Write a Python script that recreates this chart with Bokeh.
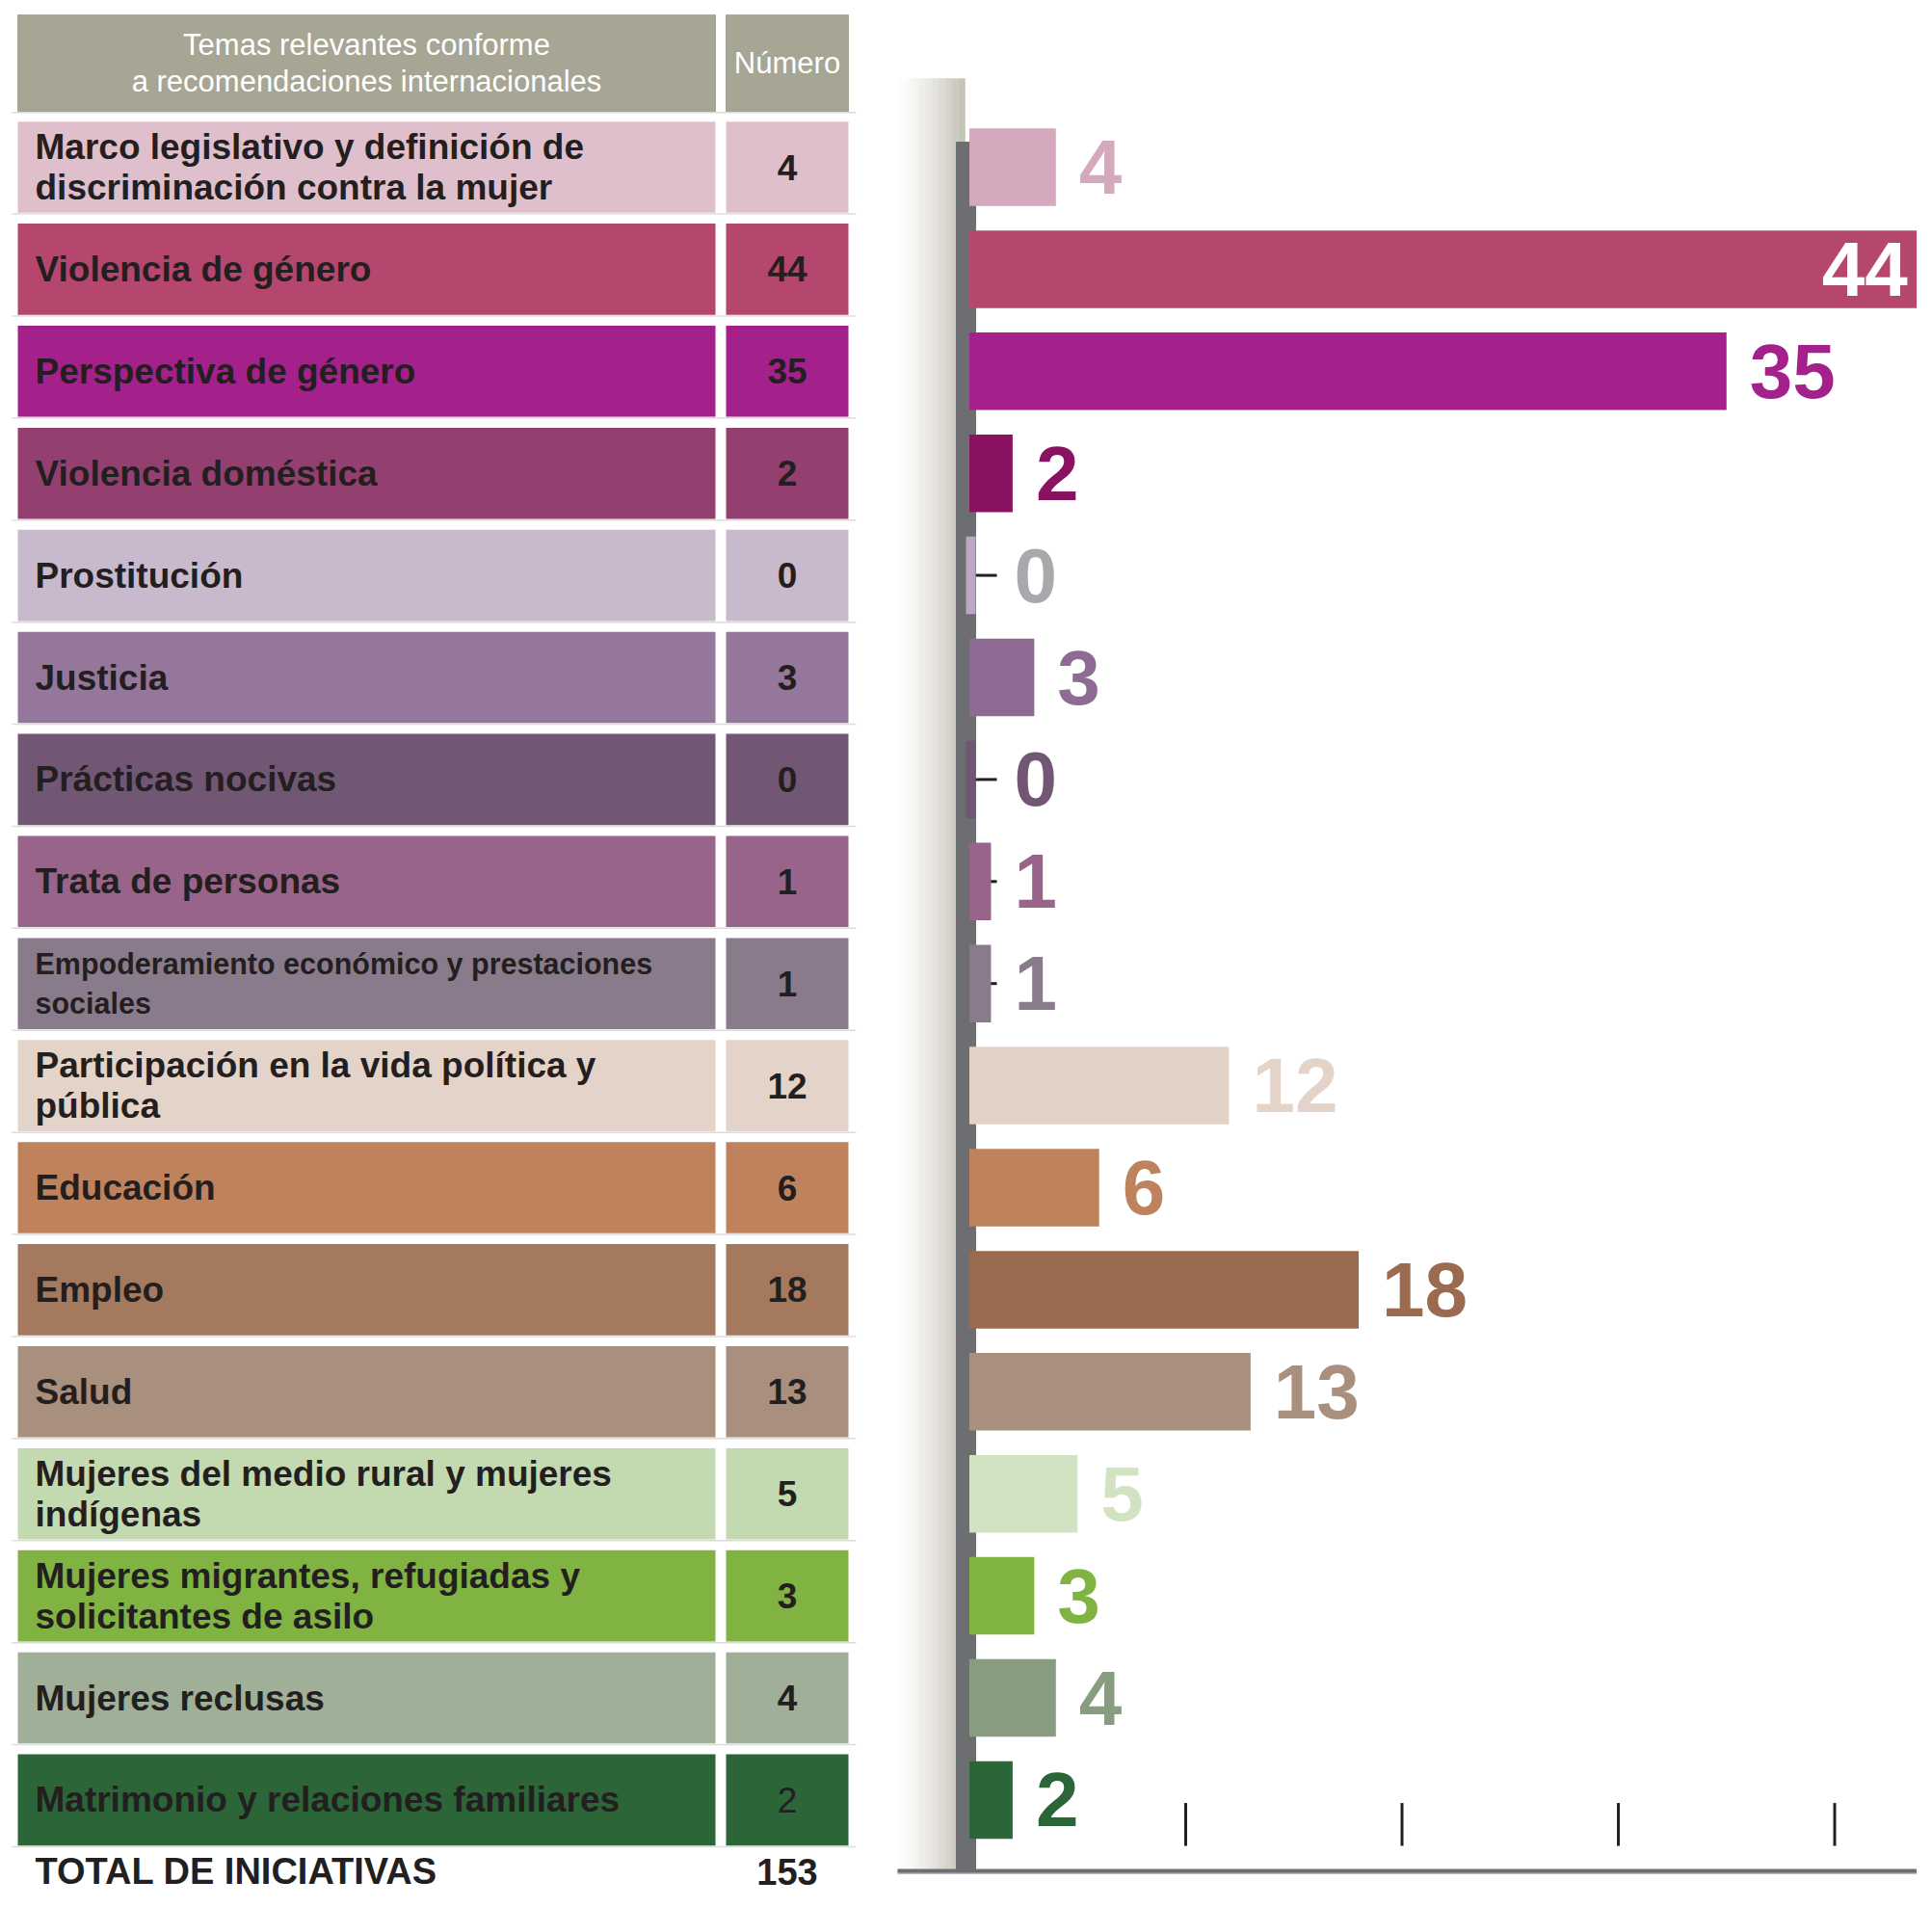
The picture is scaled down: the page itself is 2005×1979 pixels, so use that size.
import numpy as np
from bokeh.plotting import figure
from bokeh.models import Range1d, ColumnDataSource
from bokeh.layouts import row
from bokeh.embed import file_html
from bokeh.resources import INLINE
from bokeh.core.properties import value

# ---------------- data ----------------
TEMAS = [
    "Marco legislativo y definición de\ndiscriminación contra la mujer",
    "Violencia de género",
    "Perspectiva de género",
    "Violencia doméstica",
    "Prostitución",
    "Justicia",
    "Prácticas nocivas",
    "Trata de personas",
    "Empoderamiento económico y prestaciones\nsociales",
    "Participación en la vida política y\npública",
    "Educación",
    "Empleo",
    "Salud",
    "Mujeres del medio rural y mujeres\nindígenas",
    "Mujeres migrantes, refugiadas y\nsolicitantes de asilo",
    "Mujeres reclusas",
    "Matrimonio y relaciones familiares",
]
NUMERO = [4, 44, 35, 2, 0, 3, 0, 1, 1, 12, 6, 18, 13, 5, 3, 4, 2]
NUM_STYLE = ["bold"] * 16 + ["normal"]
TOTAL_LABEL = "TOTAL DE INICIATIVAS"
TOTAL = 153
HEADER_TEMAS = "Temas relevantes conforme\na recomendaciones internacionales"
HEADER_NUM = "Número"
TICKS = [10, 20, 30, 40]

TABLE_COLORS = ["#e0bfcd", "#b5476f", "#a4218c", "#933f70", "#c9b9cc", "#95779c",
                "#715774", "#98648a", "#8a7b8c", "#e3d3c9", "#be825d", "#a4795e",
                "#a98f7e", "#c3dab1", "#80b342", "#9faf98", "#2b6538"]
BAR_COLORS = ["#d4a9be", "#b5476f", "#a4218c", "#8a1361", "#bca6c3", "#8e6b93",
              "#6f5673", "#98648a", "#8a7b8c", "#e2d2c7", "#be825d", "#9a6b4f",
              "#a98f7e", "#d2e3c4", "#80b342", "#879c81", "#2b6538"]
LABEL_COLORS = ["#d4a9be", "#ffffff", "#a4218c", "#8a1361", "#a7a9ac", "#8e6b93",
                "#715774", "#98648a", "#8a7b8c", "#e3d3c9", "#be825d", "#9a6b4f",
                "#a98f7e", "#d2e3c4", "#80b342", "#879c81", "#2b6538"]

# ---------------- layout constants ----------------
H = 1963
W_LEFT = 905
W_RIGHT = 1084
PX_ROW = 105.9
Y_TOP = -173 / PX_ROW
Y_BOTTOM = Y_TOP + H / PX_ROW
PX_UNIT = 22.45
X0 = (W_LEFT - 1005.5) / PX_UNIT
X1 = X0 + W_RIGHT / PX_UNIT

FONT = "Liberation Sans"
DARK = "#231f20"

n = len(TEMAS)
ys = np.arange(n)


def base_fig(width, xr):
    p = figure(width=width, height=H, x_range=xr, y_range=Range1d(Y_BOTTOM, Y_TOP),
               output_backend="svg", toolbar_location=None, min_border=0)
    p.axis.visible = False
    p.xgrid.visible = False
    p.ygrid.visible = False
    p.outline_line_color = None
    p.background_fill_color = "white"
    p.border_fill_color = "white"
    return p


# ---------------- table ----------------
p1 = base_fig(W_LEFT, Range1d(0, W_LEFT))
C1L, C1R, C2L, C2R = 18, 742, 753, 880
CELL_H = 0.893
HDR_Y, HDR_H = -1.02, 0.944

src = ColumnDataSource(dict(y=ys, tema=TEMAS, num=[str(v) for v in NUMERO],
                            fill=TABLE_COLORS, style=NUM_STYLE))
# header
p1.hbar(y=[HDR_Y], left=C1L, right=C1R, height=HDR_H, color="#a7a594")
p1.hbar(y=[HDR_Y], left=C2L, right=C2R, height=HDR_H, color="#a7a594")
p1.text(x=[(C1L + C1R) / 2], y=[HDR_Y], text=[HEADER_TEMAS], text_color="white",
        text_font=value(FONT), text_font_size="31px", text_align="center",
        text_baseline="middle", text_line_height=1.07)
p1.text(x=[(C2L + C2R) / 2], y=[HDR_Y], text=[HEADER_NUM], text_color="white",
        text_font=value(FONT), text_font_size="31px", text_align="center",
        text_baseline="middle")

# separators
sep_y = list(ys + CELL_H / 2 + 0.012) + [HDR_Y + HDR_H / 2 + 0.012]
p1.segment(x0=12, x1=888, y0=sep_y, y1=sep_y, line_color="#dcdcdc", line_width=1.5)

# cells
p1.hbar(y="y", left=C1L, right=C1R, height=CELL_H, fill_color="fill", line_color=None, source=src)
p1.hbar(y="y", left=C2L, right=C2R, height=CELL_H, fill_color="fill", line_color=None, source=src)

small_idx = [i for i, t in enumerate(TEMAS) if t.startswith("Empoderamiento")]
normal_idx = [i for i in range(n) if i not in small_idx]
p1.text(x=36, y=[ys[i] for i in normal_idx], text=[TEMAS[i] for i in normal_idx],
        text_color=DARK, text_font=value(FONT), text_font_style="bold",
        text_font_size="37px", text_baseline="middle", text_line_height=1.02)
p1.text(x=36, y=[ys[i] for i in small_idx], text=[TEMAS[i] for i in small_idx],
        text_color=DARK, text_font=value(FONT), text_font_style="bold",
        text_font_size="30.5px", text_baseline="middle", text_line_height=1.22)
p1.text(x=(C2L + C2R) / 2, y="y", text="num", source=src, text_color=DARK,
        text_font=value(FONT), text_font_style="style", text_font_size="37px",
        text_align="center", text_baseline="middle")

# total
TOT_Y = 16.70
p1.text(x=[36], y=[TOT_Y], text=[TOTAL_LABEL], text_color=DARK, text_font=value(FONT),
        text_font_style="bold", text_font_size="38px", text_baseline="middle")
p1.text(x=[(C2L + C2R) / 2], y=[TOT_Y], text=[str(TOTAL)], text_color=DARK,
        text_font=value(FONT), text_font_style="bold", text_font_size="38px",
        text_align="center", text_baseline="middle")

# ---------------- bars ----------------
p2 = base_fig(W_RIGHT, Range1d(X0, X1))

# gradient pillar
PIL_L, PIL_R = -3.318, -0.2
nstrip = 30
edges = np.linspace(PIL_L, PIL_R, nstrip + 1)
c0 = np.array([255, 255, 255])
c1 = np.array([194, 191, 178])
cols = []
for k in range(nstrip):
    t = ((k + 0.5) / nstrip) ** 1.3
    c = (c0 + (c1 - c0) * t).astype(int)
    cols.append("#%02x%02x%02x" % tuple(c))
p2.quad(left=edges[:-1], right=edges[1:] + 0.01, top=-0.87, bottom=16.69,
        fill_color=cols, line_color=None)

# axis bar
p2.quad(left=[-0.60], right=[0.29], top=[-0.245], bottom=[16.70], color="#6d6e71")
# bottom base line
p2.segment(x0=[PIL_L], x1=[X1], y0=[16.715], y1=[16.715], line_color="#b8b9bb", line_width=3)
p2.segment(x0=[PIL_L], x1=[X1], y0=[16.695], y1=[16.695], line_color="#6d6e71", line_width=4)

# category ticks
p2.segment(x0=0.29, x1=1.27, y0=ys, y1=ys, line_color=DARK, line_width=3)

vals = np.array(NUMERO, dtype=float)
left = np.where(vals == 0, -0.156, 0.0)
right = np.where(vals == 0, 0.29, vals)
bsrc = ColumnDataSource(dict(y=ys, left=left, right=right, fill=BAR_COLORS))
p2.hbar(y="y", left="left", right="right", height=0.76, fill_color="fill",
        line_color=None, source=bsrc)

# bottom scale ticks
p2.segment(x0=TICKS, x1=TICKS, y0=16.03, y1=16.45, line_color=DARK, line_width=3)

# value labels
vmax = vals.max()
out_idx = [i for i in range(n) if vals[i] != vmax]
in_idx = [i for i in range(n) if vals[i] == vmax]
p2.text(x=[max(vals[i], 1.0) for i in out_idx], y=[ys[i] for i in out_idx],
        text=[str(NUMERO[i]) for i in out_idx],
        text_color=[LABEL_COLORS[i] for i in out_idx],
        text_font=value(FONT), text_font_style="bold", text_font_size="80px",
        text_baseline="middle", text_align="left", x_offset=24)
p2.text(x=[vals[i] for i in in_idx], y=[ys[i] for i in in_idx],
        text=[str(NUMERO[i]) for i in in_idx],
        text_color=[LABEL_COLORS[i] for i in in_idx],
        text_font=value(FONT), text_font_style="bold", text_font_size="80px",
        text_baseline="middle", text_align="right", x_offset=-14)

layout = row(p1, p2, spacing=0)
open("out.html", "w").write(file_html(layout, INLINE))
